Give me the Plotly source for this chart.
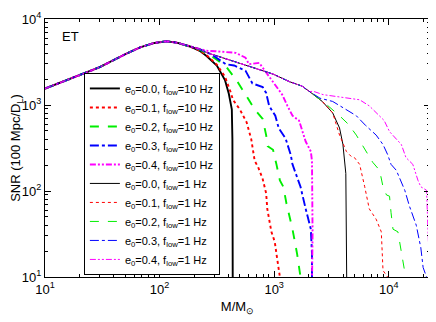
import plotly.graph_objects as go

# ---- data ----
# common low-mass part shared by all curves
M_rise = [10, 15.8, 30, 50, 67.6, 89, 115, 141, 184]
SNR_rise = [1550, 1970, 2750, 3890, 4680, 5250, 5500, 5310, 4790]

# e0=0.0, f_low=1 Hz continuation
M_e00_1 = [224, 257, 355, 500, 708, 977, 1370, 1750, 2040, 2630, 3240, 3720, 3980, 4220, 4300]
SNR_e00_1 = [4470, 4070, 3550, 3090, 2630, 2290, 1860, 1660, 1430, 1100, 810, 540, 350, 160, 8]

# f_low = 10 Hz tails
M_e00_10 = [224, 257, 316, 372, 402, 427, 432, 435]
SNR_e00_10 = [4270, 3720, 2880, 1950, 1350, 890, 400, 8]

M_e01_10 = [224, 257, 316, 372, 417, 437, 501, 575, 631, 676, 724, 794, 851, 871, 946, 1012, 1047, 1122, 1150]
SNR_e01_10 = [4300, 3800, 2950, 2140, 1410, 1150, 890, 630, 400, 224, 190, 138, 94, 62, 33.5, 25.7, 18.6, 10, 8]

M_e02_10 = [224, 257, 314, 384, 468, 575, 676, 794, 851, 879, 977, 1047, 1122, 1202, 1279, 1445, 1585, 1698, 1738]
SNR_e02_10 = [4400, 3980, 3390, 2750, 1950, 1260, 890, 690, 447, 331, 302, 204, 133, 112, 72, 36, 18.6, 10, 8]

M_e03_10 = [224, 282, 378, 447, 562, 646, 794, 851, 904, 1023, 1096, 1259, 1396, 1445, 1698, 1884, 2089, 2138, 2138, 2138]
SNR_e03_10 = [4450, 3890, 2985, 2880, 2510, 1780, 1620, 1380, 977, 750, 537, 407, 263, 204, 112, 62, 36, 18.6, 10, 8]

M_e04_10 = [224, 257, 309, 462, 562, 603, 741, 851, 1000, 1175, 1306, 1445, 1648, 1884, 2089, 2138, 2163, 2138]
SNR_e04_10 = [4480, 4270, 4220, 4040, 3550, 2985, 3090, 2400, 1780, 1320, 977, 750, 660, 376, 288, 224, 32, 8]

# f_low = 1 Hz tails (after leaving the e0=0.0, 1 Hz curve)
M_e01_1 = [3550, 3720, 4270, 4720, 5010, 5570, 6170, 6760, 7760, 8610, 8910, 9770, 10000]
SNR_e01_1 = [562, 447, 288, 251, 245, 204, 112, 62, 47, 33.5, 11.9, 10, 8]

M_e02_1 = [2860, 3720, 4410, 5210, 6310, 7240, 8320, 8910, 9550, 10160, 10470, 10890, 12020, 12880, 13800, 14130, 14450]
SNR_e02_1 = [1014, 750, 603, 447, 288, 216, 174, 112, 90, 87, 56, 36, 33.5, 20, 11.9, 10, 8]

M_e03_1 = [2510, 3240, 3980, 5210, 6310, 7760, 8910, 9770, 10470, 11640, 13800, 15140, 17380, 19050, 19950, 21380, 21880]
SNR_e03_1 = [1200, 1100, 933, 750, 575, 447, 347, 266, 204, 174, 102, 67, 40, 21.9, 12.9, 10, 8]

M_e04_1 = [2190, 2670, 3470, 4570, 5570, 6760, 7760, 9120, 10160, 11640, 12880, 14130, 16220, 17990, 19050, 21380, 21880, 22390, 22750, 22900]
SNR_e04_1 = [1445, 1320, 1260, 1200, 1150, 977, 813, 660, 490, 407, 347, 245, 204, 133, 112, 102, 47, 20, 10, 8]

e0_labels = ["0.0", "0.1", "0.2", "0.3", "0.4"]
colors = ["#000000", "#ff0000", "#00ee00", "#0000ff", "#ff00ff"]
dashes = ["solid", "dot", "dash", "dashdot", "6px,2px,2px,2px,2px,2px"]

x_tickvals = [10, 100, 1000, 10000]
x_ticktext = ["10<sup>1</sup>", "10<sup>2</sup>", "10<sup>3</sup>", "10<sup>4</sup>"]
y_tickvals = [10, 100, 1000, 10000]
y_ticktext = ["10<sup>1</sup>", "10<sup>2</sup>", "10<sup>3</sup>", "10<sup>4</sup>"]

# ---- assemble curves ----
M_base1 = M_rise + M_e00_1
S_base1 = SNR_rise + SNR_e00_1


def join(baseM, baseS, tailM, tailS):
    keepM = [m for m in baseM if m < tailM[0]]
    keepS = [s for m, s in zip(baseM, baseS) if m < tailM[0]]
    return keepM + tailM, keepS + tailS


tails10 = [(M_e00_10, SNR_e00_10), (M_e01_10, SNR_e01_10), (M_e02_10, SNR_e02_10),
           (M_e03_10, SNR_e03_10), (M_e04_10, SNR_e04_10)]
tails1 = [None, (M_e01_1, SNR_e01_1), (M_e02_1, SNR_e02_1),
          (M_e03_1, SNR_e03_1), (M_e04_1, SNR_e04_1)]

fig = go.Figure()
for i in range(5):
    mx, sy = join(M_rise, SNR_rise, *tails10[i])
    fig.add_trace(go.Scatter(x=mx, y=sy, mode="lines",
                             line=dict(color=colors[i], width=1.9, dash=dashes[i]),
                             name=f"e<sub>0</sub>={e0_labels[i]}, f<sub>low</sub>=10 Hz"))
for i in range(5):
    if tails1[i] is None:
        mx, sy = M_base1, S_base1
    else:
        mx, sy = join(M_base1, S_base1, *tails1[i])
    fig.add_trace(go.Scatter(x=mx, y=sy, mode="lines",
                             line=dict(color=colors[i], width=1.0, dash=dashes[i]),
                             name=f"e<sub>0</sub>={e0_labels[i]}, f<sub>low</sub>=1 Hz"))

axis_common = dict(type="log", showgrid=False, zeroline=False, showline=True,
                   linecolor="black", linewidth=1, mirror="ticks", ticks="inside",
                   ticklen=6, tickcolor="black", tickmode="array",
                   ticklabeloverflow="allow",
                   tickfont=dict(size=13, color="black"),
                   minor=dict(ticks="inside", ticklen=3, tickcolor="black", dtick="D1", showgrid=False))

# the page body adds an 8px offset; the figure size/margins compensate for it
fig.update_layout(
    width=428, height=314,
    margin=dict(l=37, r=6, t=2, b=45),
    paper_bgcolor="white", plot_bgcolor="white",
    font=dict(family="Liberation Sans, Arial, sans-serif", color="black", size=12),
    xaxis=dict(axis_common, range=[1, 4.36], tickvals=x_tickvals, ticktext=x_ticktext,
               title=dict(text="M/M<sub>⊙</sub>", font=dict(size=13), standoff=6)),
    yaxis=dict(axis_common, range=[1, 4], tickvals=y_tickvals, ticktext=y_ticktext,
               title=dict(text="SNR (100 Mpc/D<sub>L</sub>)", font=dict(size=13), standoff=2)),
    legend=dict(x=0.101, y=0.008, xanchor="left", yanchor="bottom",
                bgcolor="white", bordercolor="black", borderwidth=1,
                font=dict(size=11), itemwidth=30, tracegroupgap=0),
    showlegend=True,
    annotations=[dict(text="ET", xref="paper", yref="paper", x=0.04, y=0.97,
                      xanchor="left", yanchor="top", showarrow=False, font=dict(size=13))],
)

fig.write_html("out.html")
